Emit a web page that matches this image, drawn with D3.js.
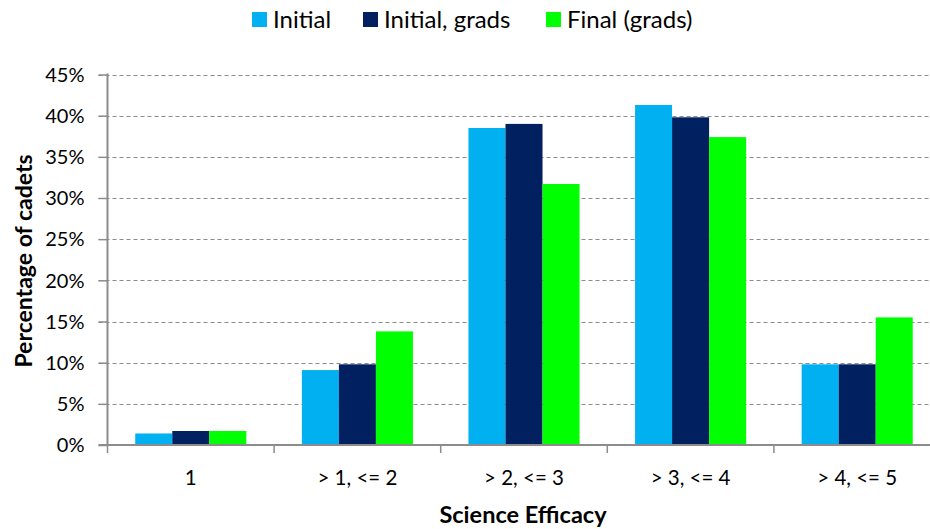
<!DOCTYPE html>
<html><head><meta charset="utf-8">
<script src="https://d3js.org/d3.v7.min.js"></script>
<style>body{margin:0;background:#fff}svg{display:block}text{font-family:Lato,"Open Sans",sans-serif}</style>
</head><body><svg id="c" width="930" height="529"></svg>
<script>
const categories = ["1", "> 1, <= 2", "> 2, <= 3", "> 3, <= 4", "> 4, <= 5"];
const seriesNames = ["Initial", "Initial, grads", "Final (grads)"];
const initial = [1.4, 9.1, 38.5, 41.3, 9.8];
const initialGrads = [1.7, 9.8, 39.0, 39.8, 9.8];
const finalGrads = [1.7, 13.8, 31.7, 37.4, 15.5];
const colors = ["#00B0F0", "#002060", "#00FF00"];
const yTicks = [0, 5, 10, 15, 20, 25, 30, 35, 40, 45];

(function () {
const series = [initial, initialGrads, finalGrads];
const svg = d3.select("#c");
const pLeft = 107.5, pRight = 940.5, pTop = 74.5, pBottom = 445;

const x = d3.scaleBand().domain(categories).range([pLeft, pRight]).paddingInner(1/3).paddingOuter(1/6);
const xs = d3.scaleBand().domain(seriesNames).range([0, x.bandwidth()]);
const y = d3.scaleLinear().domain([0, 45]).range([pBottom, pTop]);

// gridlines
svg.append("g").selectAll("line").data(yTicks.filter(d => d > 0)).join("line")
  .attr("x1", pLeft - 9).attr("x2", 930)
  .attr("y1", d => Math.round(y(d)) + 0.5).attr("y2", d => Math.round(y(d)) + 0.5)
  .attr("stroke", "#8c8c8c").attr("stroke-width", 1.2).attr("stroke-dasharray", "4,3");

// bars
series.forEach((vals, si) => {
  svg.append("g").selectAll("rect").data(vals).join("rect")
    .attr("x", (d, i) => x(categories[i]) + xs(seriesNames[si]))
    .attr("width", xs.bandwidth())
    .attr("y", d => y(d))
    .attr("height", d => pBottom - y(d))
    .attr("fill", colors[si]);
});

// y axis
const yAxis = d3.axisLeft(y).tickValues(yTicks).tickFormat(d => d + "%").tickSize(9).tickPadding(14);
const ya = svg.append("g").attr("transform", `translate(${pLeft},0)`).call(yAxis);
ya.select(".domain").attr("stroke", "#8c8c8c").attr("stroke-width", 2).attr("d", `M0,${pTop - 1}V${pBottom}`);
ya.selectAll(".tick line").attr("stroke", "#8c8c8c").attr("stroke-width", 1.5);
ya.selectAll(".tick text").attr("font-size", 20).attr("fill", "#000").attr("dy", "0.34em").style("font-family", "Lato");

// x axis
const xa = svg.append("g").attr("transform", `translate(0,${pBottom})`);
xa.append("line").attr("x1", pLeft - 9).attr("x2", 930).attr("y1", 0).attr("y2", 0).attr("stroke", "#8c8c8c").attr("stroke-width", 2);
const bounds = d3.range(categories.length + 1).map(i => pLeft + i * (pRight - pLeft) / categories.length);
xa.selectAll("line.t").data(bounds).join("line").attr("class", "t")
  .attr("x1", d => d).attr("x2", d => d).attr("y1", 0).attr("y2", 8)
  .attr("stroke", "#8c8c8c").attr("stroke-width", 1.5);
xa.selectAll("text").data(categories).join("text")
  .attr("x", d => x(d) + x.bandwidth() / 2).attr("y", 39.5)
  .attr("text-anchor", "middle").attr("font-size", 20.5).text(d => d);

// axis titles
svg.append("text").attr("x", 523).attr("y", 523).attr("text-anchor", "middle")
  .attr("font-size", 23.5).attr("font-weight", "bold").text("Science Efficacy");
svg.append("text").attr("transform", "translate(32,261) rotate(-90)").attr("text-anchor", "middle")
  .attr("font-size", 23).attr("font-weight", "bold").text("Percentage of cadets");

// legend
const legendX = [252, 363, 546];
const lg = svg.append("g");
seriesNames.forEach((n, i) => {
  lg.append("rect").attr("x", legendX[i]).attr("y", 12).attr("width", 15).attr("height", 15).attr("fill", colors[i]);
  lg.append("text").attr("x", legendX[i] + 21).attr("y", 28).attr("font-size", 24).text(n);
});
})();
</script></body></html>
